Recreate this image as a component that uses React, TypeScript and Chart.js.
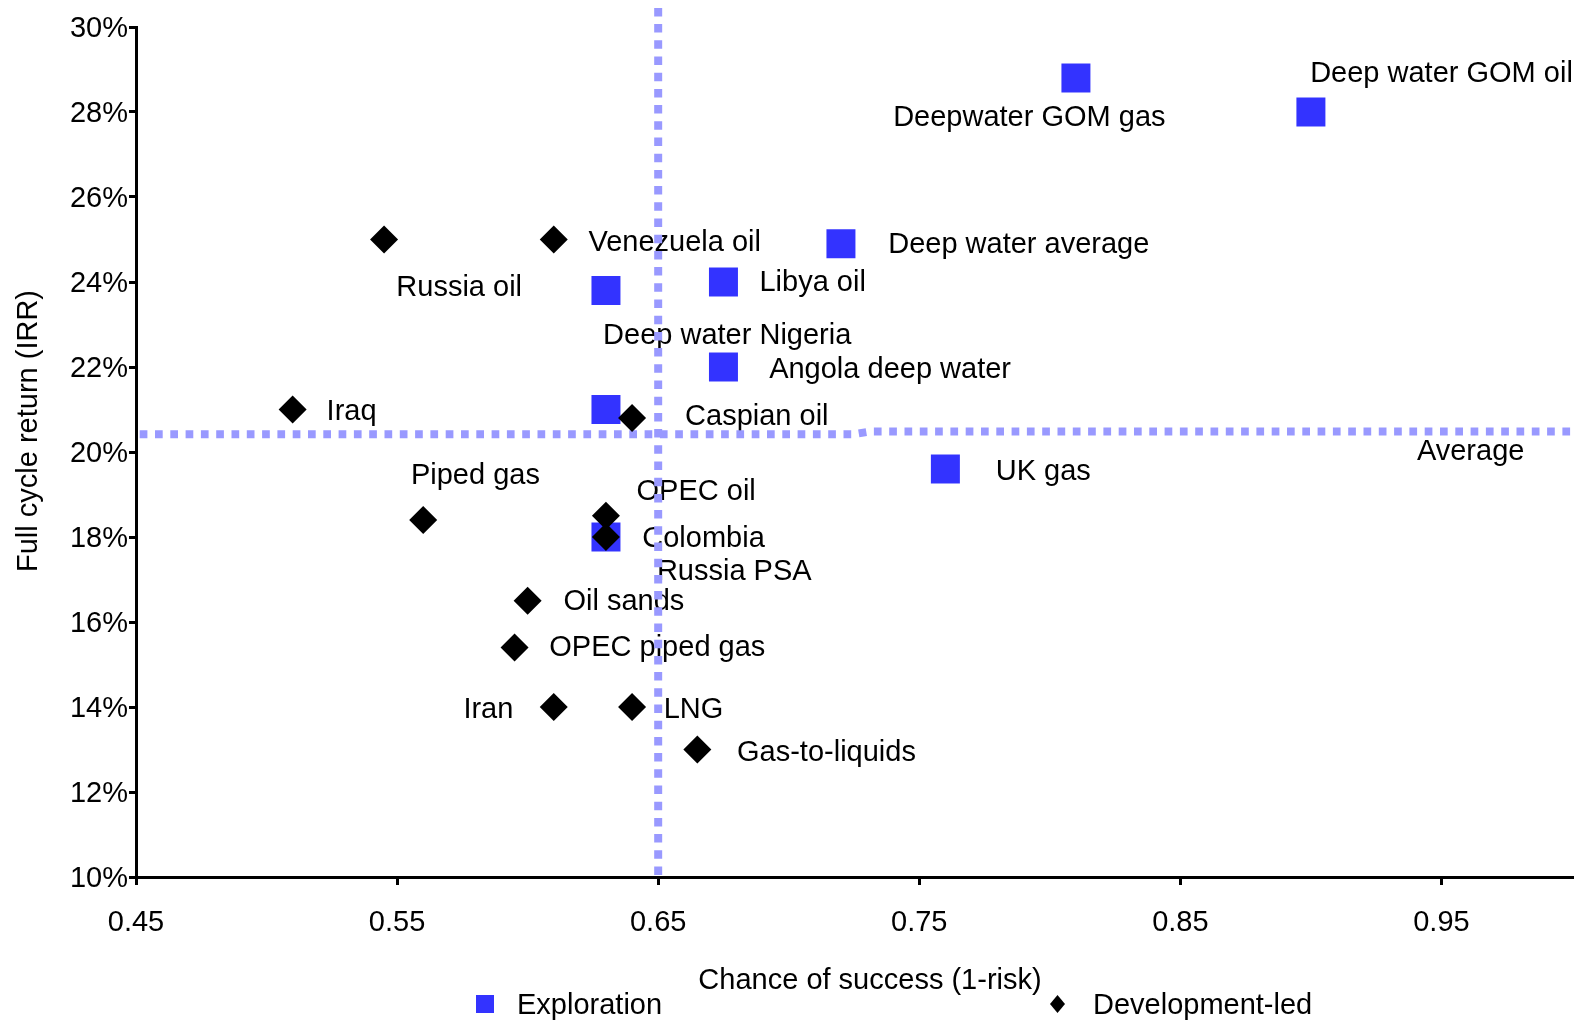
import React, { useEffect, useRef } from 'react';
import { Chart, registerables } from 'chart.js';

Chart.register(...registerables);

const FONT = '"Liberation Sans", Arial, Helvetica, sans-serif';

// ---- Data ----
const explorationNames = [
  'Deepwater GOM gas', 'Deep water GOM oil', 'Deep water average', 'Libya oil', 'Russia oil',
  'Angola deep water', 'Deep water Nigeria', 'UK gas', 'Russia PSA',
];
const explorationX = [0.81, 0.9, 0.72, 0.675, 0.63, 0.675, 0.63, 0.76, 0.63];
const explorationY = [28.8, 28.0, 24.9, 24.0, 23.8, 22.0, 21.0, 19.6, 18.0];

const developmentNames = [
  'Unlabelled', 'Venezuela oil', 'Iraq', 'Caspian oil', 'Piped gas', 'OPEC oil', 'Colombia',
  'Oil sands', 'OPEC piped gas', 'Iran', 'LNG', 'Gas-to-liquids',
];
const developmentX = [0.545, 0.61, 0.51, 0.64, 0.56, 0.63, 0.63, 0.6, 0.595, 0.61, 0.64, 0.665];
const developmentY = [25.0, 25.0, 21.0, 20.8, 18.4, 18.5, 18.0, 16.5, 15.4, 14.0, 14.0, 13.0];

// average return line (horizontal) and average risk line (vertical)
const averageLineX = [0.45, 0.725, 0.731, 1.0];
const averageLineY = [20.42, 20.42, 20.48, 20.48];
const riskLineX = [0.65, 0.65];
const riskLineY = [30.45, 10];

// text annotations, in data units (left edge, vertical middle)
const labelTexts = [
  'Deep water GOM oil', 'Deepwater GOM gas', 'Venezuela oil', 'Deep water average', 'Russia oil',
  'Libya oil', 'Deep water Nigeria', 'Angola deep water', 'Iraq', 'Caspian oil', 'Average',
  'UK gas', 'Piped gas', 'OPEC oil', 'Colombia', 'Russia PSA', 'Oil sands', 'OPEC piped gas',
  'Iran', 'LNG', 'Gas-to-liquids',
];
const labelX = [
  0.8997, 0.74, 0.6233, 0.7381, 0.5497, 0.6888, 0.6289, 0.6925, 0.523, 0.6603, 0.9406,
  0.7793, 0.5553, 0.6417, 0.6439, 0.6495, 0.6137, 0.6083, 0.5754, 0.6521, 0.6802,
];
const labelY = [
  28.89, 27.86, 24.92, 24.87, 23.86, 23.97, 22.74, 21.94, 20.94, 20.82, 20.0,
  19.52, 19.43, 19.06, 17.95, 17.17, 16.47, 15.38, 13.94, 13.94, 12.91,
];

const xTicks = [0.45, 0.55, 0.65, 0.75, 0.85, 0.95];
const yTicks = [10, 12, 14, 16, 18, 20, 22, 24, 26, 28, 30];

const xTitle = 'Chance of success (1-risk)';
const yTitle = 'Full cycle return (IRR)';
const legendLabels = ['Exploration', 'Development-led'];

const BLUE = '#3333FF';
const LIGHT = '#9999FF';

const decorPlugin = {
  id: 'decor',
  beforeDatasetsDraw(chart: any) {
    const { ctx, scales } = chart;
    const xs = scales.x;
    const ys = scales.y;
    ctx.save();
    ctx.font = `29px ${FONT}`;
    ctx.fillStyle = '#000';
    ctx.textBaseline = 'middle';
    ctx.textAlign = 'left';
    labelTexts.forEach((t, i) => {
      ctx.fillText(t, xs.getPixelForValue(labelX[i]), ys.getPixelForValue(labelY[i]));
    });
    ctx.restore();
  },
  afterDraw(chart: any) {
    const { ctx } = chart;
    ctx.save();
    ctx.font = `29px ${FONT}`;
    ctx.fillStyle = '#000';
    ctx.textBaseline = 'middle';
    // x title
    ctx.textAlign = 'center';
    ctx.fillText(xTitle, 870, 980.5);
    // y title
    ctx.save();
    ctx.translate(28.5, 431);
    ctx.rotate(-Math.PI / 2);
    ctx.fillText(yTitle, 0, 0);
    ctx.restore();
    // legend
    ctx.textAlign = 'left';
    ctx.fillStyle = BLUE;
    ctx.fillRect(476, 995, 18, 18);
    ctx.fillStyle = '#000';
    ctx.fillText(legendLabels[0], 517, 1005.5);
    ctx.beginPath();
    ctx.moveTo(1057.5, 995);
    ctx.lineTo(1065, 1004);
    ctx.lineTo(1057.5, 1013);
    ctx.lineTo(1050, 1004);
    ctx.closePath();
    ctx.fill();
    ctx.fillText(legendLabels[1], 1093, 1005.5);
    ctx.restore();
  },
};

export default function App() {
  const ref = useRef<HTMLCanvasElement>(null);
  useEffect(() => {
    document.body.style.margin = '0';
    const canvas = ref.current;
    if (!canvas) return;
    Chart.defaults.font.family = FONT;
    Chart.defaults.color = '#000';
    const chart = new Chart(canvas, {
      type: 'scatter',
      data: {
        datasets: [
          {
            label: legendLabels[1],
            data: developmentX.map((x, i) => ({ x, y: developmentY[i], name: developmentNames[i] })),
            pointStyle: 'rectRot',
            pointRadius: 14,
            pointHoverRadius: 14,
            backgroundColor: '#000',
            borderColor: '#000',
            borderWidth: 0,
            order: 0,
          } as any,
          {
            label: legendLabels[0],
            data: explorationX.map((x, i) => ({ x, y: explorationY[i], name: explorationNames[i] })),
            pointStyle: 'rect',
            pointRadius: 20.5,
            pointHoverRadius: 20.5,
            backgroundColor: BLUE,
            borderColor: BLUE,
            borderWidth: 0,
            order: 1,
          } as any,
          {
            label: 'Average return',
            data: averageLineX.map((x, i) => ({ x, y: averageLineY[i] })),
            showLine: true,
            pointRadius: 0,
            borderColor: LIGHT,
            borderWidth: 8,
            borderDash: [7.7, 7.6],
            borderDashOffset: 11.6,
            borderCapStyle: 'butt',
            tension: 0,
            clip: false,
            order: 2,
          } as any,
          {
            label: 'Average risk',
            data: riskLineX.map((x, i) => ({ x, y: riskLineY[i] })),
            showLine: true,
            pointRadius: 0,
            borderColor: LIGHT,
            borderWidth: 8,
            borderDash: [8.5, 7.7],
            borderCapStyle: 'butt',
            tension: 0,
            clip: false,
            order: 2,
          } as any,
        ],
      },
      options: {
        responsive: false,
        animation: false,
        devicePixelRatio: 1,
        events: [],
        layout: { autoPadding: false, padding: { left: 0, right: 11, top: 27, bottom: 0 } },
        plugins: {
          legend: { display: false },
          tooltip: { enabled: false },
          title: { display: false },
        },
        scales: {
          x: {
            type: 'linear',
            min: 0.45,
            max: 1.0,
            afterBuildTicks: (axis: any) => {
              axis.ticks = xTicks.map((v) => ({ value: v }));
            },
            afterFit: (s: any) => {
              s.height = 143;
            },
            border: { display: true, color: '#000', width: 3 },
            grid: {
              display: true,
              drawOnChartArea: false,
              drawTicks: true,
              tickLength: 8,
              color: '#000',
              lineWidth: 3,
            },
            ticks: {
              color: '#000',
              font: { family: FONT, size: 29 },
              padding: 21,
              maxRotation: 0,
              autoSkip: false,
              callback: (v: any) => Number(v).toFixed(2),
            },
          },
          y: {
            type: 'linear',
            min: 10,
            max: 30,
            afterBuildTicks: (axis: any) => {
              axis.ticks = yTicks.map((v) => ({ value: v }));
            },
            afterFit: (s: any) => {
              s.width = 136;
            },
            border: { display: true, color: '#000', width: 3 },
            grid: {
              display: true,
              drawOnChartArea: false,
              drawTicks: true,
              tickLength: 7,
              color: '#000',
              lineWidth: 3,
            },
            ticks: {
              color: '#000',
              font: { family: FONT, size: 29 },
              padding: 1,
              labelOffset: 1.5,
              autoSkip: false,
              callback: (v: any) => `${v}%`,
            },
          },
        },
      } as any,
      plugins: [decorPlugin],
    });
    return () => chart.destroy();
  }, []);
  return (
    <div style={{ width: 1583, height: 1020, position: 'relative', background: '#fff' }}>
      <canvas ref={ref} width={1583} height={1020} style={{ display: 'block' }} />
    </div>
  );
}
